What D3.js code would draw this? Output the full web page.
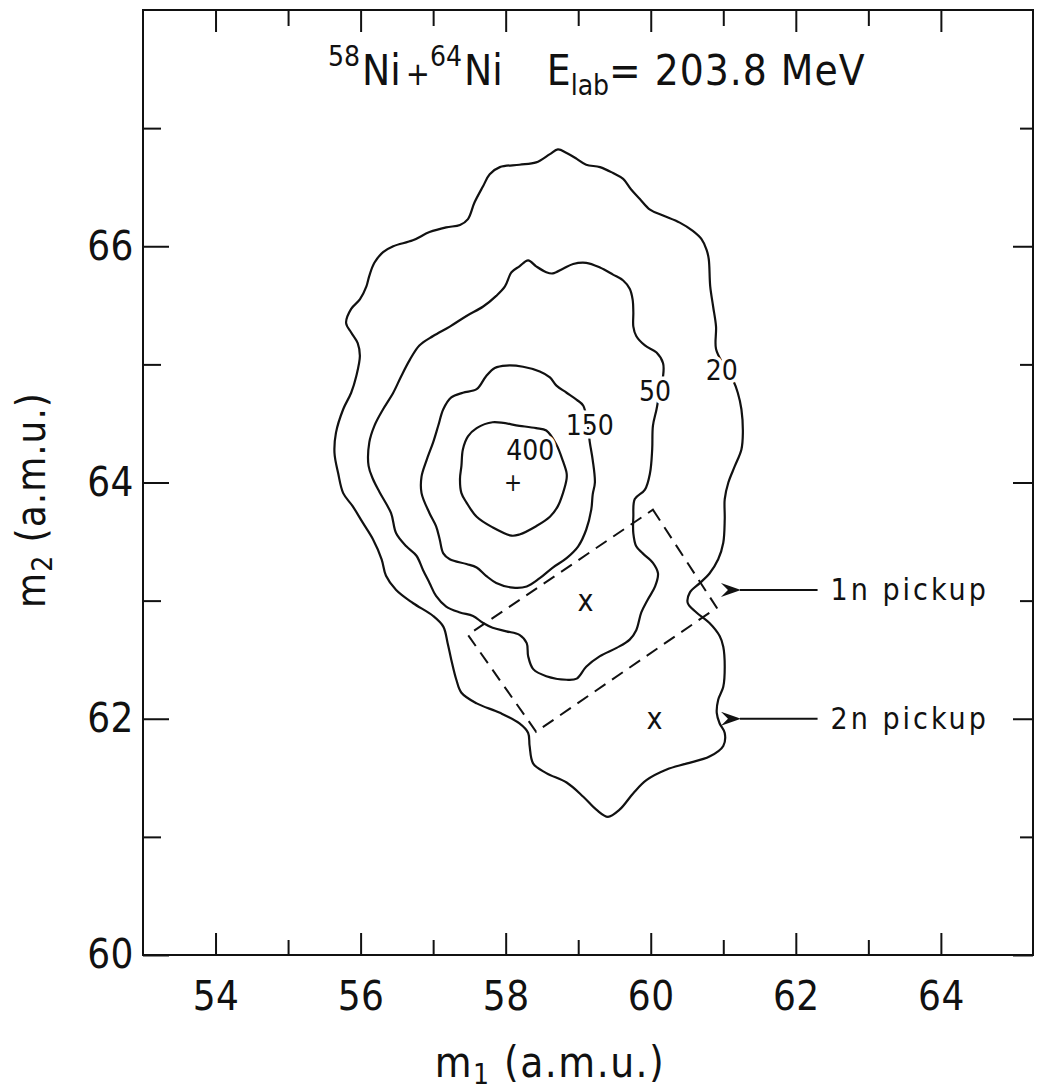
<!DOCTYPE html>
<html lang="en">
<head>
<meta charset="UTF-8">
<title>58Ni + 64Ni mass contours</title>
<script src="https://d3js.org/d3.v7.min.js"></script>
<style>
  body { margin: 0; background: #fff; }
  svg text { font-family: "DejaVu Sans Condensed", "Liberation Sans Narrow", "DejaVu Sans", sans-serif; fill: #111; }
</style>
</head>
<body>
<svg id="chart"></svg>
<script>
const width = 1038, height = 1090;

// axis ticks
const xMajor = [54, 56, 58, 60, 62, 64];
const xMinor = [55, 57, 59, 61, 63];
const yMajor = [60, 62, 64, 66];
const yMinor = [61, 63, 65, 67];

// contour lines, [m1, m2]
const contour20 = [[58.72,66.82],[58.84,66.79],[58.98,66.74],[59.11,66.69],[59.30,66.67],[59.48,66.62],[59.62,66.57],[59.73,66.48],[59.85,66.40],[59.99,66.31],[60.17,66.26],[60.40,66.20],[60.58,66.13],[60.70,66.06],[60.77,65.97],[60.80,65.89],[60.82,65.66],[60.86,65.49],[60.90,65.32],[60.90,65.13],[61.01,64.99],[61.14,64.86],[61.20,64.76],[61.25,64.62],[61.27,64.42],[61.25,64.28],[61.16,64.14],[61.07,64.00],[61.02,63.86],[61.02,63.69],[61.00,63.49],[60.93,63.35],[60.81,63.23],[60.68,63.15],[60.54,63.07],[60.51,62.98],[60.63,62.90],[60.81,62.81],[60.95,62.70],[61.00,62.61],[61.02,62.44],[61.00,62.27],[60.93,62.16],[60.91,62.05],[60.95,61.96],[61.02,61.88],[61.00,61.77],[60.81,61.68],[60.49,61.62],[60.22,61.57],[59.94,61.48],[59.76,61.37],[59.57,61.23],[59.41,61.17],[59.25,61.23],[59.07,61.34],[58.84,61.46],[58.56,61.54],[58.38,61.62],[58.33,61.77],[58.31,61.88],[58.19,61.96],[57.92,62.05],[57.60,62.13],[57.39,62.22],[57.32,62.33],[57.25,62.50],[57.20,62.64],[57.14,62.78],[57.00,62.87],[56.72,62.98],[56.49,63.09],[56.35,63.21],[56.29,63.35],[56.17,63.52],[56.03,63.66],[55.89,63.80],[55.76,63.91],[55.69,64.08],[55.64,64.25],[55.66,64.42],[55.76,64.62],[55.87,64.76],[55.94,64.90],[55.99,65.07],[55.96,65.18],[55.87,65.27],[55.80,65.35],[55.87,65.47],[55.99,65.55],[56.08,65.66],[56.12,65.75],[56.19,65.86],[56.31,65.95],[56.45,66.00],[56.72,66.05],[56.95,66.12],[57.18,66.16],[57.37,66.18],[57.48,66.23],[57.57,66.37],[57.69,66.51],[57.78,66.61],[57.92,66.67],[58.19,66.69],[58.42,66.71],[58.61,66.78]];

const contour50 = [[58.31,65.88],[58.42,65.83],[58.56,65.78],[58.65,65.77],[58.79,65.81],[58.93,65.85],[59.11,65.86],[59.30,65.82],[59.48,65.76],[59.62,65.71],[59.71,65.64],[59.75,65.55],[59.76,65.44],[59.76,65.32],[59.80,65.24],[59.92,65.16],[60.08,65.10],[60.17,65.01],[60.17,64.90],[60.12,64.76],[60.08,64.62],[60.03,64.48],[60.02,64.28],[59.99,64.08],[59.92,63.94],[59.78,63.86],[59.76,63.71],[59.76,63.57],[59.80,63.46],[59.89,63.40],[60.03,63.32],[60.10,63.23],[60.06,63.12],[59.96,63.01],[59.87,62.90],[59.80,62.75],[59.71,62.67],[59.53,62.60],[59.30,62.53],[59.11,62.44],[58.98,62.34],[58.84,62.33],[58.56,62.36],[58.38,62.42],[58.31,62.53],[58.29,62.64],[58.19,62.71],[58.01,62.74],[57.82,62.77],[57.69,62.81],[57.55,62.87],[57.37,62.90],[57.18,62.95],[57.04,63.04],[56.95,63.15],[56.86,63.26],[56.77,63.38],[56.63,63.46],[56.49,63.57],[56.42,63.74],[56.26,63.92],[56.17,64.03],[56.11,64.14],[56.12,64.34],[56.19,64.48],[56.31,64.62],[56.45,64.76],[56.56,64.90],[56.68,65.04],[56.81,65.16],[57.00,65.24],[57.23,65.32],[57.46,65.41],[57.69,65.49],[57.87,65.58],[57.99,65.66],[58.08,65.78],[58.19,65.83]];

const contour150 = [[57.85,64.97],[58.01,64.99],[58.24,64.98],[58.47,64.94],[58.61,64.89],[58.70,64.82],[58.84,64.76],[58.98,64.70],[59.07,64.65],[59.13,64.49],[59.16,64.34],[59.20,64.19],[59.23,64.00],[59.20,63.90],[59.18,63.77],[59.11,63.60],[59.00,63.46],[58.84,63.36],[58.65,63.28],[58.47,63.19],[58.29,63.12],[58.10,63.11],[57.87,63.15],[57.73,63.21],[57.60,63.28],[57.46,63.31],[57.23,63.35],[57.14,63.40],[57.09,63.52],[57.04,63.63],[56.95,63.74],[56.84,63.91],[56.84,64.05],[56.91,64.19],[57.00,64.34],[57.07,64.48],[57.14,64.62],[57.25,64.72],[57.41,64.76],[57.60,64.79],[57.73,64.90]];

const contour400 = [[57.82,64.51],[58.19,64.48],[58.42,64.46],[58.56,64.44],[58.70,64.32],[58.79,64.18],[58.84,64.08],[58.84,64.03],[58.79,63.91],[58.72,63.80],[58.61,63.71],[58.42,63.63],[58.19,63.56],[58.08,63.55],[57.82,63.62],[57.60,63.71],[57.46,63.83],[57.39,63.91],[57.37,64.03],[57.39,64.14],[57.41,64.28],[57.48,64.39],[57.60,64.46]];

const contourLevels = [20, 50, 150, 400];
const contourLabelPos = [[60.98, 64.95], [60.06, 64.77], [59.16, 64.48], [58.34, 64.27]];

const peakMark = [58.1, 64.0];
const pickupMarks = [[59.1, 63.0], [60.05, 62.0]];
const pickupBox = [[60.03, 63.77], [60.91, 62.94], [58.42, 61.89], [57.48, 62.71]];
const arrowLabels = ["1n pickup", "2n pickup"];
const arrowM2 = [63.09, 62.0];

const svg = d3.select("#chart").attr("width", width).attr("height", height);

const plotLeft = 143, plotRight = 1033, plotTop = 10, plotBottom = 955;
const x = d3.scaleLinear().domain([53, 65.27]).range([plotLeft, plotRight]);
const y = d3.scaleLinear().domain([60, 68]).range([plotBottom, plotTop]);

// ticks, pointing inward on all four sides
function styleAxis(g) {
  g.select(".domain").remove();
  g.selectAll(".tick line").attr("stroke", "#111").attr("stroke-width", 2);
  g.selectAll(".tick text").attr("font-size", 40).attr("fill", "#111").style("letter-spacing", "0.5px");
}

svg.append("g").attr("transform", `translate(0,${plotBottom})`)
  .call(d3.axisBottom(x).tickValues(xMajor).tickSize(-22).tickPadding(27).tickFormat(d3.format("d")))
  .call(styleAxis);
svg.append("g").attr("transform", `translate(0,${plotBottom})`)
  .call(d3.axisBottom(x).tickValues(xMinor).tickSize(-15).tickFormat(""))
  .call(styleAxis);
svg.append("g").attr("transform", `translate(0,${plotTop})`)
  .call(d3.axisTop(x).tickValues(xMajor).tickSize(-22).tickFormat(""))
  .call(styleAxis);
svg.append("g").attr("transform", `translate(0,${plotTop})`)
  .call(d3.axisTop(x).tickValues(xMinor).tickSize(-16).tickFormat(""))
  .call(styleAxis);
svg.append("g").attr("transform", `translate(${plotLeft},0)`)
  .call(d3.axisLeft(y).tickValues(yMajor).tickSize(-26).tickPadding(9).tickFormat(d3.format("d")))
  .call(styleAxis);
svg.append("g").attr("transform", `translate(${plotLeft},0)`)
  .call(d3.axisLeft(y).tickValues(yMinor).tickSize(-18).tickFormat(""))
  .call(styleAxis);
svg.append("g").attr("transform", `translate(${plotRight},0)`)
  .call(d3.axisRight(y).tickValues(yMajor).tickSize(-20).tickFormat(""))
  .call(styleAxis);
svg.append("g").attr("transform", `translate(${plotRight},0)`)
  .call(d3.axisRight(y).tickValues(yMinor).tickSize(-13).tickFormat(""))
  .call(styleAxis);

svg.append("rect")
  .attr("x", plotLeft).attr("y", plotTop)
  .attr("width", plotRight - plotLeft).attr("height", plotBottom - plotTop)
  .attr("fill", "none").attr("stroke", "#111").attr("stroke-width", 2);

// contours
const line = d3.line()
  .x(d => x(d[0]))
  .y(d => y(d[1]))
  .curve(d3.curveCatmullRomClosed.alpha(0.5));

svg.append("g")
  .selectAll("path")
  .data([contour20, contour50, contour150, contour400])
  .join("path")
  .attr("d", line)
  .attr("fill", "none")
  .attr("stroke", "#111")
  .attr("stroke-width", 2.2);

// dashed 1n/2n window
svg.append("path")
  .attr("d", d3.line().x(d => x(d[0])).y(d => y(d[1])).curve(d3.curveLinearClosed)(pickupBox))
  .attr("fill", "none")
  .attr("stroke", "#111")
  .attr("stroke-width", 2)
  .attr("stroke-dasharray", "13,8");

// contour level labels, white halo cuts the line
svg.append("g")
  .selectAll("text")
  .data(contourLevels)
  .join("text")
  .attr("x", (d, i) => x(contourLabelPos[i][0]))
  .attr("y", (d, i) => y(contourLabelPos[i][1]))
  .attr("text-anchor", "middle")
  .attr("dominant-baseline", "central")
  .attr("font-size", 28)
  .attr("stroke", "#fff")
  .attr("stroke-width", 7)
  .attr("paint-order", "stroke")
  .text(d => d);

// markers
svg.append("text")
  .attr("x", x(peakMark[0])).attr("y", y(peakMark[1]))
  .attr("text-anchor", "middle").attr("dominant-baseline", "central")
  .attr("font-size", 24).text("+");

svg.append("g")
  .selectAll("text")
  .data(pickupMarks)
  .join("text")
  .attr("x", d => x(d[0])).attr("y", d => y(d[1]))
  .attr("text-anchor", "middle").attr("dominant-baseline", "central")
  .attr("font-size", 30).text("x");

// arrows
const arrowX0 = 61.23, arrowX1 = 62.30;
svg.append("defs").append("marker")
  .attr("id", "head")
  .attr("viewBox", "0 0 22 14")
  .attr("refX", 1).attr("refY", 7)
  .attr("markerWidth", 22).attr("markerHeight", 14)
  .attr("markerUnits", "userSpaceOnUse")
  .attr("orient", "auto-start-reverse")
  .append("path")
  .attr("d", "M20,0 L0,7 L20,14 L13,7 Z")
  .attr("fill", "#111");

const arrows = svg.append("g")
  .selectAll("g")
  .data(arrowLabels)
  .join("g");

arrows.append("line")
  .attr("x1", x(arrowX0)).attr("x2", x(arrowX1))
  .attr("y1", (d, i) => y(arrowM2[i])).attr("y2", (d, i) => y(arrowM2[i]))
  .attr("stroke", "#111").attr("stroke-width", 2)
  .attr("marker-start", "url(#head)");

arrows.append("text")
  .attr("x", x(arrowX1) + 13)
  .attr("y", (d, i) => y(arrowM2[i]))
  .attr("dominant-baseline", "central")
  .attr("font-size", 30)
  .style("letter-spacing", "3px")
  .text(d => d);

// title
const title = svg.append("text")
  .attr("x", 328).attr("y", 85)
  .attr("font-size", 42);
title.append("tspan").attr("font-size", 28).attr("dy", -19).text("58");
title.append("tspan").attr("dy", 19).attr("dx", 2).text("Ni");
title.append("tspan").attr("font-size", 32).attr("dx", 5).text("+");
title.append("tspan").attr("font-size", 28).attr("dy", -19).text("64");
title.append("tspan").attr("dy", 19).attr("dx", 2).text("Ni");
title.append("tspan").attr("dx", 44).text("E");
title.append("tspan").attr("font-size", 28).attr("dy", 10).text("lab");
title.append("tspan").attr("dy", -10).style("letter-spacing", "1px").text("= 203.8 MeV");

// axis titles
const xt = svg.append("text")
  .attr("x", 550).attr("y", 1077)
  .attr("text-anchor", "middle")
  .attr("font-size", 42)
  .style("letter-spacing", "1.5px");
xt.append("tspan").text("m");
xt.append("tspan").attr("font-size", 28).attr("dy", 7).text("1");
xt.append("tspan").attr("dy", -7).text(" (a.m.u.)");

const yt = svg.append("text")
  .attr("transform", "translate(45,500) rotate(-90)")
  .attr("text-anchor", "middle")
  .attr("font-size", 40)
  .style("letter-spacing", "1px");
yt.append("tspan").text("m");
yt.append("tspan").attr("font-size", 28).attr("dy", 7).text("2");
yt.append("tspan").attr("dy", -7).text(" (a.m.u.)");
</script>
</body>
</html>
